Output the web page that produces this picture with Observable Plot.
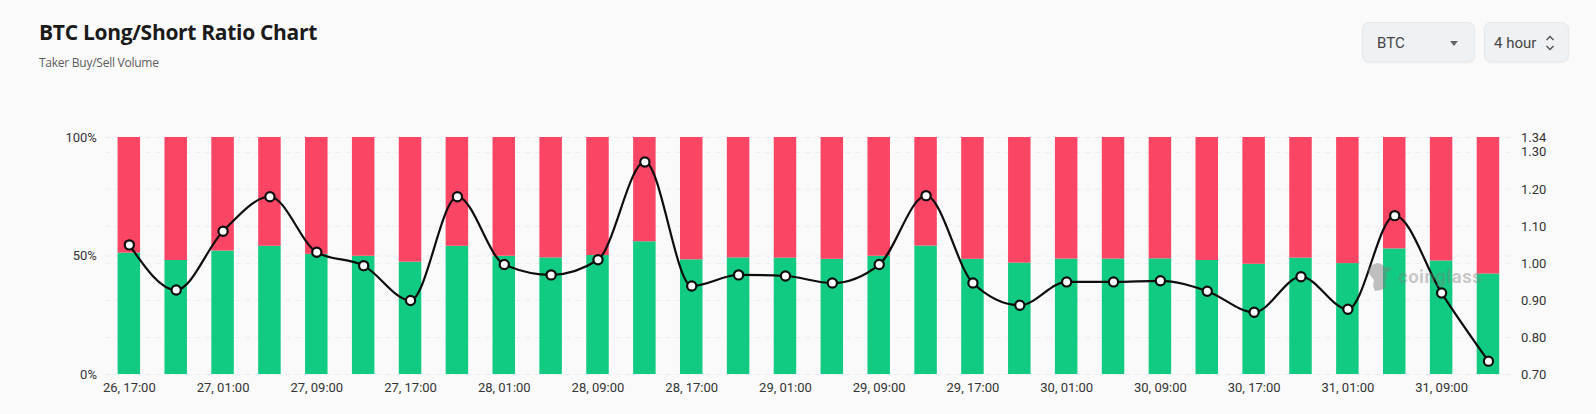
<!DOCTYPE html>
<html><head><meta charset="utf-8">
<script src="https://cdn.jsdelivr.net/npm/d3@7"></script>
<script src="https://cdn.jsdelivr.net/npm/@observablehq/plot@0.6"></script>
<style>
html,body{margin:0;padding:0;background:#fafafa;overflow:hidden}
#wrap{position:relative;width:1596px;height:414px;font-family:Roboto,sans-serif}
#title{position:absolute;left:39px;top:18px;font:700 21px/28px "Open Sans",sans-serif;color:#1a1a1a;letter-spacing:-.3px}
#sub{position:absolute;left:39px;top:55px;font:400 12px/16px "Open Sans",sans-serif;color:#5a5a5a;letter-spacing:-.25px}
.ctl{position:absolute;top:22px;height:40px;box-sizing:border-box;background:#eef2f4;border:1px solid #e6e9eb;border-radius:7px;box-shadow:0 1px 2px rgba(0,0,0,.06);font:400 15px/40px Roboto,sans-serif;color:#444}
#c1{left:1362px;width:113px;padding-left:14px}
#c2{left:1484px;width:85px;padding-left:9px}
#c1 i{position:absolute;right:16px;top:18px;width:0;height:0;border-left:4.5px solid transparent;border-right:4.5px solid transparent;border-top:5px solid #666}
#c2 svg{position:absolute;right:13px;top:11px}
#plot{position:absolute;left:0;top:110px}
#mark{position:absolute;left:1398px;top:262px;font:700 18.5px/30px Roboto,sans-serif;color:rgba(125,125,125,.42);letter-spacing:.5px;pointer-events:none}
#blob{position:absolute;left:1367px;top:262px;pointer-events:none}
</style></head><body>
<div id="wrap">
<div id="title">BTC Long/Short Ratio Chart</div>
<div id="sub">Taker Buy/Sell Volume</div>
<div class="ctl" id="c1">BTC<i></i></div>
<div class="ctl" id="c2">4 hour<svg width="10" height="18" viewBox="0 0 10 18" fill="none" stroke="#555" stroke-width="1.5"><path d="M1.5 6L5 2.5L8.5 6M1.5 12L5 15.5L8.5 12"/></svg></div>
<div id="plot"></div>
<svg id="blob" width="26" height="30" viewBox="0 0 26 30"><path d="M1 8L5 3L10 1L14 2L18 5L25 6L21 10L19 10L20 15L18 20L19 26L14 28L8 29L6 24L7 18L3 13Z" fill="rgba(125,125,125,.48)"/></svg>
<div id="mark">coinglass</div>
</div>
<script>
const times = ["26, 17:00","26, 21:00","27, 01:00","27, 05:00","27, 09:00","27, 13:00","27, 17:00","27, 21:00","28, 01:00","28, 05:00","28, 09:00","28, 13:00","28, 17:00","28, 21:00","29, 01:00","29, 05:00","29, 09:00","29, 13:00","29, 17:00","29, 21:00","30, 01:00","30, 05:00","30, 09:00","30, 13:00","30, 17:00","30, 21:00","31, 01:00","31, 05:00","31, 09:00","31, 13:00"];
const longShare = [51.2,48.1,52.1,54.1,50.7,49.9,47.4,54.1,49.9,49.2,50.2,56.0,48.4,49.2,49.1,48.6,49.9,54.2,48.6,47.0,48.7,48.7,48.8,48.1,46.5,49.1,46.8,53.0,47.9,42.4];
const ratio = [1.05,0.928,1.087,1.18,1.03,0.994,0.90,1.18,0.997,0.969,1.01,1.274,0.939,0.969,0.966,0.947,0.997,1.183,0.947,0.887,0.95,0.95,0.953,0.925,0.868,0.964,0.876,1.129,0.92,0.736];
const shareTicks = [0,50,100];
const ratioTicks = [0.70,0.80,0.90,1.00,1.10,1.20,1.30,1.34];
const xLabels = times.filter((d,i)=>i%2===0);
const green = "#10cb81", red = "#fb4564", gridColor = "#ececec", textColor = "#333";

const rows = times.map((t,i)=>({t,long:longShare[i],ratio:ratio[i]}));
// right-hand ratio axis is mapped onto the share scale
const r2s = d3.scaleLinear([0.70,1.34],[0,100]);

const chart = Plot.plot({
  width:1596, height:304,
  marginLeft:105.4, marginRight:84.6, marginTop:27, marginBottom:40,
  style:{background:"transparent",fontFamily:"Roboto,sans-serif",fontSize:"13px",color:textColor,overflow:"visible"},
  x:{domain:times,paddingInner:0.52,paddingOuter:0.26,round:false,label:null},
  y:{domain:[0,100],label:null},
  marks:[
    Plot.ruleY(ratioTicks,{y:d=>r2s(d),stroke:gridColor,strokeDasharray:"5 5"}),
    Plot.ruleY(shareTicks,{stroke:gridColor,strokeDasharray:"5 5"}),
    Plot.barY(rows,{x:"t",y1:0,y2:"long",fill:green}),
    Plot.barY(rows,{x:"t",y1:"long",y2:100,fill:red}),
    Plot.line(rows,{x:"t",y:d=>r2s(d.ratio),curve:"monotone-x",stroke:"#0d0d0d",strokeWidth:2.2}),
    Plot.dot(rows,{x:"t",y:d=>r2s(d.ratio),r:4.6,fill:"#fff",stroke:"#0d0d0d",strokeWidth:2.2}),
    Plot.axisX({ticks:xLabels,tickSize:0,tickPadding:8,label:null,fill:textColor}),
    Plot.axisY(shareTicks,{anchor:"left",tickSize:0,tickPadding:9,tickFormat:d=>d+"%",label:null,fill:textColor}),
    Plot.axisY(ratioTicks,{anchor:"right",y:d=>r2s(d),text:d=>d.toFixed(2),tickSize:0,tickPadding:9,label:null,fill:textColor})
  ]
});
document.getElementById("plot").append(chart);
</script>
</body></html>
